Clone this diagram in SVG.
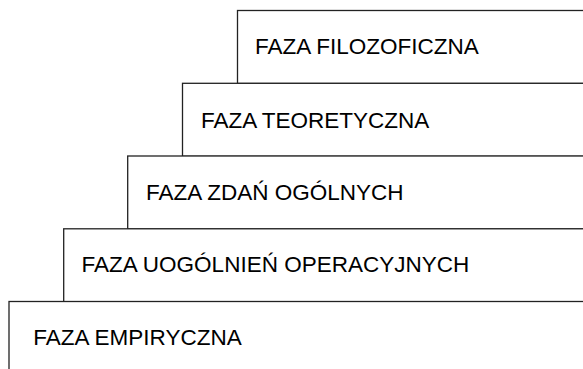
<svg xmlns="http://www.w3.org/2000/svg" width="583" height="369" viewBox="0 0 583 369">
  <style>
    .step { fill: #ffffff; stroke: #222222; stroke-width: 1.3; }
    .label { font-family: "Liberation Sans", Arial, Helvetica, sans-serif; font-size: 22.5px; fill: #000000; }
  </style>
  <rect width="583" height="369" fill="#ffffff"/>
  <!-- staircase of phases, drawn top to bottom so each lower step overlaps the one above -->
  <g id="faza-filozoficzna">
    <rect class="step" x="237.5" y="10.5" width="400" height="73"/>
    <text class="label" x="255" y="54.3">FAZA FILOZOFICZNA</text>
  </g>
  <g id="faza-teoretyczna">
    <rect class="step" x="182.5" y="83.3" width="450" height="73"/>
    <text class="label" x="201" y="127.7">FAZA TEORETYCZNA</text>
  </g>
  <g id="faza-zdan-ogolnych">
    <rect class="step" x="127.7" y="156" width="500" height="73"/>
    <text class="label" x="146" y="200">FAZA ZDAŃ OGÓLNYCH</text>
  </g>
  <g id="faza-uogolnien-operacyjnych">
    <rect class="step" x="63.7" y="228.8" width="560" height="73"/>
    <text class="label" x="81.6" y="272.3">FAZA UOGÓLNIEŃ OPERACYJNYCH</text>
  </g>
  <g id="faza-empiryczna">
    <rect class="step" x="9" y="301.5" width="620" height="100"/>
    <text class="label" x="33.3" y="345">FAZA EMPIRYCZNA</text>
  </g>
  <g id="connectors"></g>
</svg>
